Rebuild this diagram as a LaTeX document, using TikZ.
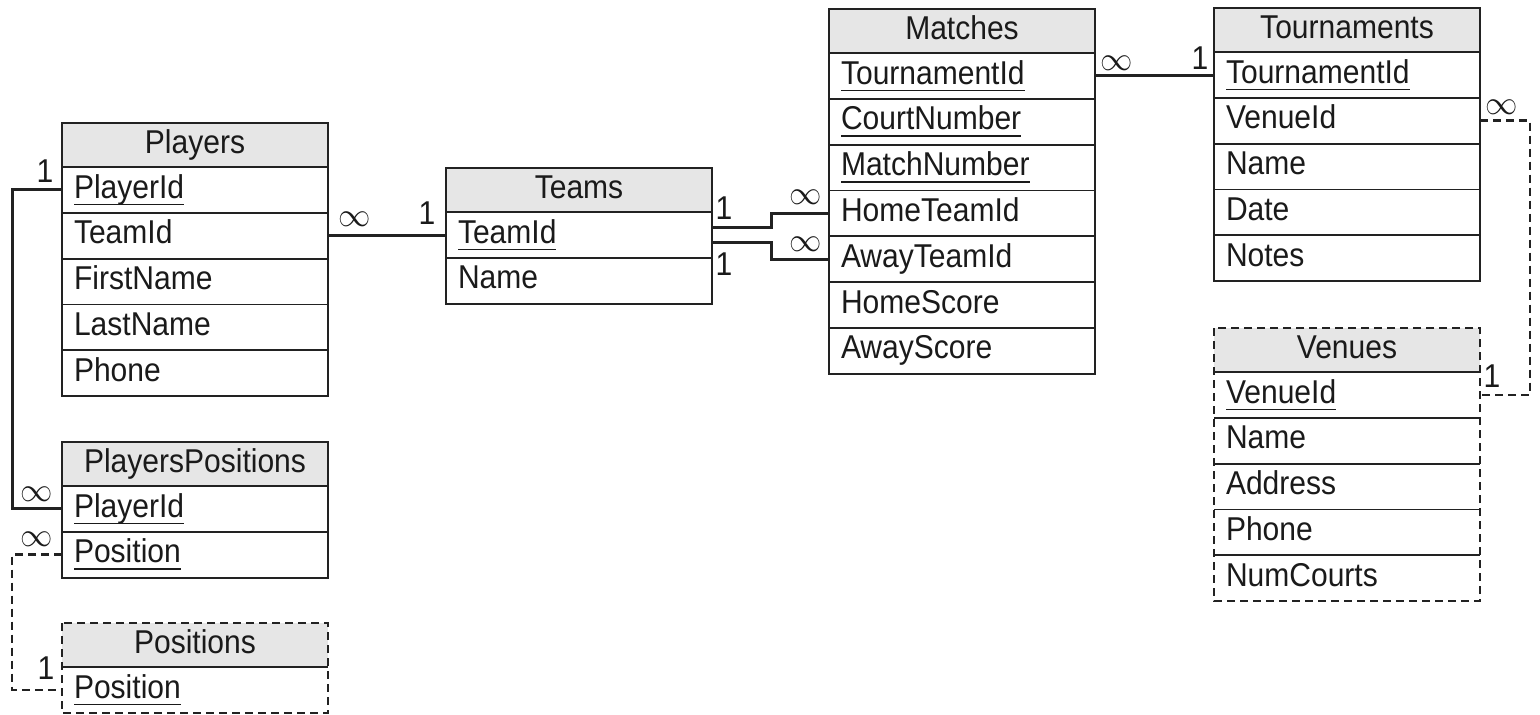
\documentclass[tikz,border=0pt]{standalone}
\usepackage{fontspec}
\setmainfont{Liberation Sans}[FakeStretch=0.91]
\definecolor{hdrgray}{HTML}{E6E6E6}
\definecolor{lineblk}{HTML}{222222}
\definecolor{txt}{HTML}{1A1A1A}
\newcommand\erfont{\fontsize{33}{38}\selectfont}
\newcommand\ukey[1]{\setbox0\hbox{#1}\rlap{\rule[-7pt]{\wd0}{1.6pt}}\box0}
\newcommand\many{\scalebox{1.3}[1.35]{\fontsize{24.88}{26}\selectfont$\infty$}}
\tikzset{
  hdr/.style={anchor=north west, fill=hdrgray, minimum width=266pt, minimum height=44pt,
    inner sep=0pt, outer sep=0pt, text height=25pt, text depth=8pt, font=\erfont, text=txt},
  fld/.style={anchor=north west, minimum width=266pt, minimum height=45.8pt,
    inner xsep=12pt, inner ysep=0pt, outer sep=0pt, text width=242pt, align=left,
    text height=25pt, text depth=8.5pt, font=\erfont, text=txt},
  sep/.style={draw=lineblk, line width=1.8pt},
  solidborder/.style={draw=lineblk, line width=2pt},
  dashborder/.style={draw=lineblk, line width=2pt, dash pattern=on 8pt off 5pt},
  conn/.style={draw=lineblk, line width=3pt},
  dconn/.style={draw=lineblk, line width=2.5pt, dash pattern=on 8pt off 5pt},
  card/.style={font=\erfont, inner sep=0pt, text=txt},
}
\newcommand\ertable[5]{%
  \node[hdr] (#1-0) at (#2,#3) {#4};
  \foreach \fieldtext [count=\i, remember=\i as \j (initially 0)] in {#5}{
    \node[fld] (#1-\i) at (#1-\j.south west) {\fieldtext};
    \xdef\erlast{\i}
  }
  \foreach \k in {1,...,\erlast} \draw[sep] (#1-\k.north west) -- (#1-\k.north east);
}
\begin{document}
\begin{tikzpicture}[x=1pt, y=-1pt]
\useasboundingbox (0,0) rectangle (1540,715);

% Players
\ertable{pl}{62}{123}{Players}{\ukey{PlayerId},TeamId,FirstName,LastName,Phone}
\draw[solidborder] (pl-0.north west) rectangle (pl-\erlast.south east);
% PlayersPositions
\ertable{pp}{62}{442}{PlayersPositions}{\ukey{PlayerId},\ukey{Position}}
\draw[solidborder] (pp-0.north west) rectangle (pp-\erlast.south east);
% Positions
\ertable{pos}{62}{623}{Positions}{\ukey{Position}}
\draw[dashborder] (pos-0.north west) rectangle (pos-\erlast.south east);
% Teams
\ertable{te}{446}{168}{Teams}{\ukey{TeamId},Name}
\draw[solidborder] (te-0.north west) rectangle (te-\erlast.south east);
% Matches
\ertable{ma}{829}{9}{Matches}{\ukey{TournamentId},\ukey{CourtNumber},\ukey{MatchNumber},HomeTeamId,AwayTeamId,HomeScore,AwayScore}
\draw[solidborder] (ma-0.north west) rectangle (ma-\erlast.south east);
% Tournaments
\ertable{to}{1214}{8}{Tournaments}{\ukey{TournamentId},VenueId,Name,Date,Notes}
\draw[solidborder] (to-0.north west) rectangle (to-\erlast.south east);
% Venues
\ertable{ve}{1214}{328}{Venues}{\ukey{VenueId},Name,Address,Phone,NumCourts}
\draw[dashborder] (ve-0.north west) rectangle (ve-\erlast.south east);

% connectors
\draw[conn] (pl-1.west) -- ++(-50,0) |- (pp-1.west);
\draw[dconn] (pp-2.west) -- ++(-50,0) |- (pos-1.west);
\draw[conn] (pl-2.east) -- (pl-2.east -| te-1.west);
\draw[conn] ([yshift=7.5pt]te-1.east) -- ++(59,0) |- (ma-4.west);
\draw[conn] ([yshift=-7.5pt]te-1.east) -- ++(59,0) |- (ma-5.west);
\draw[conn] (ma-1.east) -- (ma-1.east -| to-1.west);
\draw[dconn] (to-2.east) -- ++(50,0) |- (ve-1.east);

% cardinalities
\node[card] (c1) at (45,171) {1};
\node[card] (c2) at (37,494) {\many};
\node[card] (c3) at (37,539) {\many};
\node[card] (c4) at (46,668) {1};
\node[card] (c5) at (355,219) {\many};
\node[card] (c6) at (427,213) {1};
\node[card] (c7) at (724,208) {1};
\node[card] (c8) at (724,264) {1};
\node[card] (c9) at (806,197) {\many};
\node[card] (c10) at (806,244) {\many};
\node[card] (c11) at (1117,63) {\many};
\node[card] (c12) at (1200,58) {1};
\node[card] (c13) at (1502,107) {\many};
\node[card] (c14) at (1492,376) {1};
\end{tikzpicture}
\end{document}
